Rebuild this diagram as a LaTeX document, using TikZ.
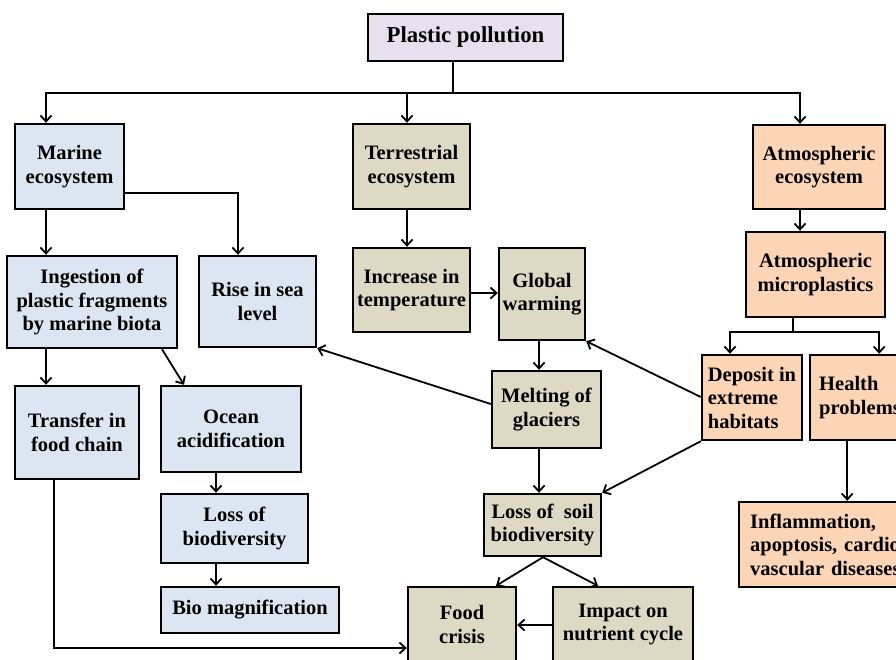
\documentclass[tikz,border=0pt]{standalone}
\usepackage{fontspec}
\setmainfont{Liberation Serif}
\usepackage{tikz}
\usetikzlibrary{positioning,arrows.meta}
\usepackage{xcolor}
\definecolor{topfill}{RGB}{232,224,238}
\definecolor{seafill}{RGB}{220,230,242}
\definecolor{landfill}{RGB}{221,217,196}
\definecolor{airfill}{RGB}{251,213,181}

\begin{document}
\begin{tikzpicture} [x=1pt, y=-1pt,
	box/.style={draw=black, line width=2.4pt, inner sep=2pt, align=center, font=\fontsize{20.5}{23.5}\selectfont\bfseries},
	topbox/.style={box, fill=topfill},
	seabox/.style={box, fill=seafill},
	landbox/.style={box, fill=landfill},
	airbox/.style={box, fill=airfill},
	link/.style={line width=1.8pt, ->, >={Straight Barb[length=6pt,width=11pt]}}]
	\useasboundingbox (0,0) rectangle (896,659);
	\clip (0,0) rectangle (896,659);
	\node [topbox, minimum width=195, minimum height=47, font=\fontsize{22.8}{25}\selectfont\bfseries] (pp) at (465.5,37.5) {Plastic pollution};
	\node [seabox, minimum width=109, minimum height=85] (marine) at (69.5,166.5) {Marine\\ecosystem};
	\node [landbox, minimum width=117, minimum height=85] (terr) at (411.5,166.5) {Terrestrial\\ecosystem};
	\node [airbox, minimum width=132, minimum height=84] (atmeco) at (819,167) {Atmospheric\\ecosystem};
	\node [airbox, minimum width=139, minimum height=85] (atmmic) at (815.5,274.5) {Atmospheric\\microplastics};
	\node [seabox, minimum width=170, minimum height=92] (ingest) at (92,302) {Ingestion of\\plastic fragments\\by marine biota};
	\node [seabox, minimum width=117, minimum height=91] (rise) at (257.5,301.5) {Rise in sea\\level};
	\node [landbox, minimum width=117, minimum height=84] (temp) at (411.5,290) {Increase in\\temperature};
	\node [landbox, minimum width=86, minimum height=92] (warm) at (542,294) {Global\\warming};
	\node [landbox, minimum width=109, minimum height=77] (melt) at (546.5,409.5) {Melting of\\glaciers};
	\node [airbox, minimum width=100, minimum height=85, align=left] (deposit) at (752,397.5) {Deposit in\\extreme\\habitats};
	\node [airbox, anchor=west, text width=100, inner xsep=9, minimum height=85, align=left] (health) at (809,397.5) {Health\\problems};
	\node [landbox, minimum width=117, minimum height=62] (soil) at (542.5,525) {Loss of~~soil\\biodiversity};
	\node [airbox, anchor=west, text width=180, inner xsep=11, minimum height=85, align=left] (infl) at (738,544.5) {Inflammation,\\apoptosis, cardio\\vascular diseases};
	\node [landbox, minimum width=108, minimum height=75] (food) at (462,624.5) {Food\\crisis};
	\node [landbox, minimum width=140, minimum height=75] (impact) at (623,624.5) {Impact on\\nutrient cycle};
	\node [seabox, minimum width=124, minimum height=93] (transfer) at (77,432.5) {Transfer in\\food chain};
	\node [seabox, minimum width=140, minimum height=86] (ocean) at (231,429) {Ocean\\acidification};
	\node [seabox, minimum width=147, minimum height=69] (loss) at (234.5,528.5) {Loss of\\biodiversity};
	\node [seabox, minimum width=178, minimum height=46] (bio) at (250,610) {Bio magnification};
	\coordinate (hub) at (453,93);
	\coordinate (split) at (793,332);
	\draw [link, -] (pp.south -| hub)--(hub);
	\draw [link] (hub) -| ([xshift=-23.5]marine.north);
	\draw [link] (hub) -| ([xshift=-4.5]terr.north);
	\draw [link] (hub) -| ([xshift=-19]atmeco.north);
	\draw [link] ([xshift=-19]atmeco.south)--([xshift=-15.5]atmmic.north);
	\draw [link] ([xshift=-23.5]marine.south)--([xshift=-46]ingest.north);
	\draw [link] ([yshift=-26.5]marine.east) -| ([xshift=-19.5]rise.north);
	\draw [link] ([xshift=-46]ingest.south)--([xshift=-31]transfer.north);
	\draw [link] ([xshift=70]ingest.south)--([xshift=-47]ocean.north);
	\draw [link] ([xshift=-15]ocean.south)--([xshift=-18.5]loss.north);
	\draw [link] ([xshift=-18.5]loss.south)--([xshift=-34]bio.north);
	\draw [link] ([xshift=-23]transfer.south) |- ([yshift=-23.5]food.west);
	\draw [link] ([xshift=-4.5]terr.south)--([xshift=-4.5]temp.north);
	\draw [link] ([yshift=-3]temp.east)--([yshift=1]warm.west);
	\draw [link] ([xshift=-3]warm.south)--([xshift=-7.5]melt.north);
	\draw [link] ([yshift=5.5]melt.west)--(rise.south east);
	\draw [link] ([xshift=-7.5]melt.south)--([xshift=-3.5]soil.north);
	\draw [link, -] ([xshift=-22.5]atmmic.south)--(split);
	\draw [link] (split) -| ([xshift=-22]deposit.north);
	\draw [link] (split) -| ([xshift=10]health.north);
	\draw [link] ([yshift=0.5]deposit.west)--(warm.south east);
	\draw [link] (deposit.south west)--(soil.north east);
	\draw [link] ([xshift=-22]health.south)--([xshift=7]infl.north);
	\draw [link] ([xshift=0.5]soil.south)--([xshift=34]food.north);
	\draw [link] ([xshift=0.5]soil.south)--([xshift=-25]impact.north);
	\draw [link] ([yshift=-0.5]impact.west)--([yshift=-0.5]food.east);
\end{tikzpicture}
\end{document}
